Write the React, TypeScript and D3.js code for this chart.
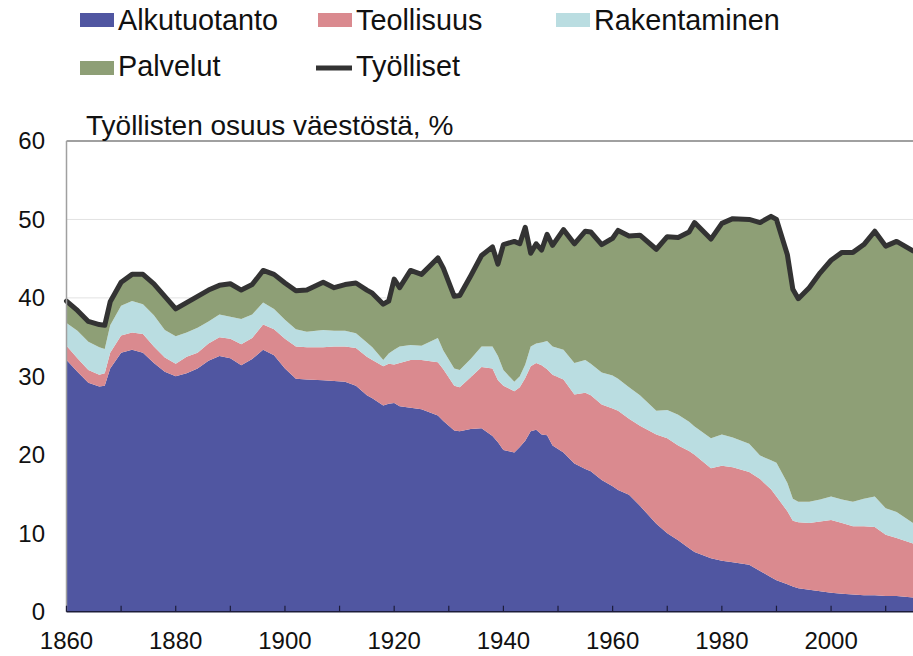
import React from 'react';
import * as d3 from 'd3';

// vuodet (epätasainen väli, tiheämpi kohdissa joissa viiva sahaa)
const years = [
  1860, 1862, 1864, 1866, 1867, 1868, 1870, 1872, 1874, 1876, 1878, 1880, 1882, 1884, 1886, 1888,
  1890, 1892, 1894, 1896, 1898, 1900, 1902, 1904, 1907, 1909, 1911, 1913, 1915, 1916, 1918, 1919,
  1920, 1921, 1923, 1925, 1928, 1929, 1931, 1932, 1934, 1936, 1938, 1939, 1940, 1942, 1943, 1944,
  1945, 1946, 1947, 1948, 1949, 1951, 1953, 1955, 1956, 1958, 1960, 1961, 1963, 1965, 1968, 1970,
  1972, 1974, 1975, 1978, 1980, 1982, 1985, 1987, 1989, 1990, 1992, 1993, 1994, 1996, 1998, 2000,
  2002, 2004, 2006, 2008, 2010, 2012, 2015,
];

// toimialojen osuudet väestöstä, %
const alkutuotanto = [
  32.1, 30.6, 29.2, 28.7, 28.8, 31.0, 33.0, 33.4, 33.0, 31.7, 30.6, 30.0, 30.4, 31.0, 32.0, 32.6,
  32.3, 31.4, 32.2, 33.4, 32.7, 31.0, 29.7, 29.6, 29.5, 29.4, 29.3, 28.8, 27.6, 27.2, 26.3, 26.5,
  26.6, 26.2, 26.0, 25.8, 25.0, 24.3, 23.1, 23.0, 23.3, 23.4, 22.4, 21.6, 20.6, 20.3, 21.0, 21.8,
  23.0, 23.2, 22.6, 22.5, 21.2, 20.3, 18.9, 18.2, 17.9, 16.8, 16.0, 15.5, 14.9, 13.5, 11.2, 10.0,
  9.1, 8.1, 7.6, 6.8, 6.5, 6.3, 6.0, 5.2, 4.4, 4.0, 3.5, 3.2, 3.0, 2.8, 2.6, 2.4,
  2.3, 2.2, 2.1, 2.1, 2.0, 2.0, 1.8,
];
const teollisuus = [
  1.8, 1.7, 1.6, 1.5, 1.6, 2.0, 2.2, 2.2, 2.4, 2.1, 1.8, 1.6, 2.1, 2.0, 2.2, 2.4,
  2.5, 2.7, 2.7, 3.2, 3.3, 3.8, 4.1, 4.1, 4.2, 4.4, 4.5, 4.8, 4.9, 4.9, 5.0, 5.1,
  4.9, 5.5, 6.1, 6.3, 6.8, 6.6, 5.7, 5.6, 6.6, 7.8, 8.6, 7.9, 8.2, 7.8, 7.6, 8.0,
  8.3, 8.5, 8.8, 8.4, 9.0, 9.3, 8.8, 9.7, 9.7, 9.6, 9.9, 10.1, 9.7, 10.2, 11.4, 12.1,
  12.1, 12.4, 12.4, 11.5, 12.1, 12.1, 11.8, 11.7, 11.2, 10.7, 9.3, 8.4, 8.4, 8.5, 8.9, 9.3,
  9.0, 8.7, 8.8, 8.7, 7.8, 7.4, 6.9,
];
const rakentaminen = [
  2.9, 3.5, 3.6, 3.5, 3.1, 3.5, 3.8, 4.0, 3.8, 4.0, 3.5, 3.5, 3.1, 3.2, 2.8, 2.9,
  2.8, 3.2, 3.0, 2.8, 2.6, 2.4, 2.2, 2.0, 2.2, 2.0, 2.0, 1.9, 1.8, 1.6, 0.8, 1.3,
  1.9, 2.1, 1.9, 1.8, 3.1, 2.4, 2.2, 2.2, 2.3, 2.6, 2.8, 3.1, 2.0, 1.2, 1.4, 1.7,
  2.5, 2.5, 2.9, 3.6, 3.6, 3.8, 4.0, 4.2, 4.0, 4.1, 4.2, 4.1, 4.0, 3.9, 3.0, 3.6,
  3.9, 3.7, 3.6, 3.8, 4.0, 3.8, 3.6, 3.0, 3.7, 4.3, 3.6, 2.8, 2.6, 2.7, 2.8, 3.0,
  3.0, 3.1, 3.5, 3.9, 3.4, 3.3, 2.6,
];
const palvelut = [
  2.8, 2.6, 2.6, 2.9, 3.0, 3.0, 3.0, 3.4, 3.8, 4.0, 4.3, 3.5, 3.8, 4.0, 4.0, 3.7,
  4.2, 3.7, 3.8, 4.1, 4.4, 4.7, 4.9, 5.3, 6.1, 5.5, 5.9, 6.4, 6.7, 6.9, 7.1, 6.7,
  9.0, 7.5, 9.5, 9.1, 10.2, 10.5, 9.2, 9.5, 10.6, 11.6, 12.7, 11.7, 16.0, 17.9, 16.9, 17.5,
  11.9, 12.7, 11.8, 13.6, 12.9, 15.3, 15.2, 16.4, 16.8, 16.3, 17.5, 18.9, 19.3, 20.4, 20.6, 22.1,
  22.6, 24.2, 26.0, 25.4, 26.9, 27.9, 28.6, 29.7, 31.1, 31.0, 29.1, 26.7, 25.9, 27.3, 28.9, 30.1,
  31.5, 31.8, 32.4, 33.8, 33.4, 34.5, 34.7,
];

const keys = ['Alkutuotanto', 'Teollisuus', 'Rakentaminen', 'Palvelut'];
const colors = ['#5056a1', '#da8a8f', '#badde1', '#8e9f76'];
const lineColor = '#333333';
const yTicks = [0, 10, 20, 30, 40, 50, 60];
const xLabels = [1860, 1880, 1900, 1920, 1940, 1960, 1980, 2000];
const xTicks = d3.range(1860, 2015, 10);
const title = 'Työllisten osuus väestöstä, %';

const W = 913;
const H = 656;
const font = '"Liberation Sans", Arial, sans-serif';

export default function App() {
  const table = years.map((yr, i) => ({
    year: yr,
    Alkutuotanto: alkutuotanto[i],
    Teollisuus: teollisuus[i],
    Rakentaminen: rakentaminen[i],
    Palvelut: palvelut[i],
  }));

  const x = d3.scaleLinear().domain([1860, 2015]).range([66.5, 913]);
  const y = d3.scaleLinear().domain([0, 60]).range([611.7, 141]);

  const series = d3.stack().keys(keys)(table as any);
  const area = d3
    .area<any>()
    .x((d) => x(d.data.year))
    .y0((d) => y(d[0]))
    .y1((d) => y(d[1]));
  const line = d3
    .line<any>()
    .x((d) => x(d.year))
    .y((d) => y(d.Alkutuotanto + d.Teollisuus + d.Rakentaminen + d.Palvelut));

  const x0 = x.range()[0];
  const x1 = x.range()[1];

  return (
    <svg width={W} height={H} style={{ position: 'absolute', left: 0, top: 0, background: '#fff' }}>
      {/* legenda */}
      <g fontFamily={font} fontSize={28.8} fill="#111">
        <rect x={80} y={13} width={34} height={14} fill={colors[0]} />
        <text x={118} y={30}>Alkutuotanto</text>
        <rect x={318} y={13} width={34} height={14} fill={colors[1]} />
        <text x={356} y={30}>Teollisuus</text>
        <rect x={556} y={13} width={34} height={14} fill={colors[2]} />
        <text x={594} y={30}>Rakentaminen</text>
        <rect x={80} y={61} width={34} height={14} fill={colors[3]} />
        <text x={118} y={76}>Palvelut</text>
        <line x1={316} x2={352} y1={68} y2={68} stroke={lineColor} strokeWidth={5} />
        <text x={356} y={76}>Työlliset</text>
      </g>

      {/* apuviivat */}
      {yTicks.slice(1, -1).map((t) => (
        <line key={t} x1={x0} x2={x1} y1={y(t)} y2={y(t)} stroke="#e2e2e2" strokeWidth={1} />
      ))}

      {series.map((s, i) => (
        <path key={s.key} d={area(s) || ''} fill={colors[i]} />
      ))}

      <path
        d={line(table) || ''}
        fill="none"
        stroke={lineColor}
        strokeWidth={5}
        strokeLinejoin="round"
        strokeLinecap="round"
      />

      {/* kehys */}
      <line x1={x0} x2={x1} y1={y(60)} y2={y(60)} stroke="#a0a0a0" strokeWidth={2} />
      <line x1={x0} x2={x0} y1={y(60)} y2={y(0)} stroke="#a0a0a0" strokeWidth={1.5} />
      <line x1={x0} x2={x1} y1={y(0)} y2={y(0)} stroke="#1c1c3a" strokeWidth={1.5} />
      {xTicks.map((t) => (
        <line key={t} x1={x(t)} x2={x(t)} y1={y(0)} y2={y(0) - 6} stroke="#1c1c3a" strokeWidth={1.2} />
      ))}

      <g fontFamily={font} fontSize={24} fill="#111">
        {yTicks.map((t) => (
          <text key={t} x={45} y={y(t)} dy="0.35em" textAnchor="end">
            {t}
          </text>
        ))}
        {xLabels.map((t) => (
          <text key={t} x={x(t)} y={649} textAnchor="middle">
            {t}
          </text>
        ))}
      </g>

      <text x={86} y={135} fontFamily={font} fontSize={28} fill="#111">
        {title}
      </text>
    </svg>
  );
}
